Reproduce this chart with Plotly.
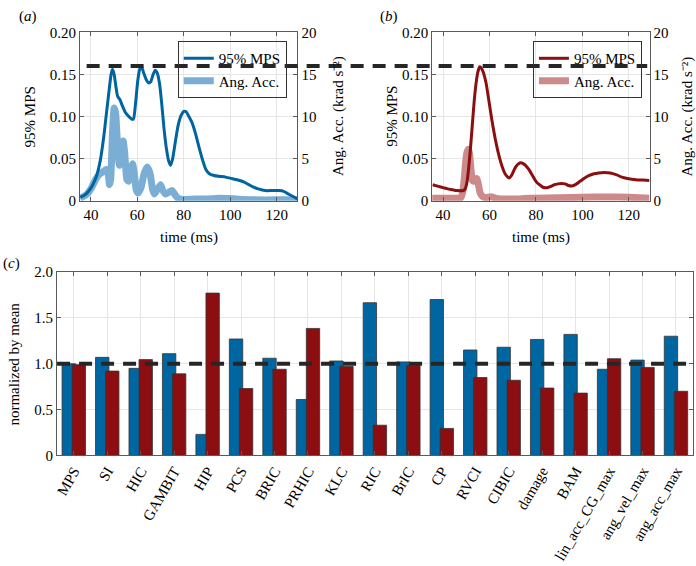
import plotly.graph_objects as go

# ---------------- data ----------------
# panel (a)
t_mps_a = [35.5, 37.5, 39.5, 41.0, 42.5, 44.0, 45.5, 46.7, 47.8, 48.7, 49.3, 50.0, 50.8, 51.5, 52.5,
           53.5, 54.8, 56.0, 57.5, 58.3, 59.2, 60.2, 61.0, 61.8, 62.7, 63.8, 64.8, 65.7, 66.8, 67.7,
           68.5, 69.5, 70.5, 71.5, 72.5, 73.5, 74.3, 75.2, 76.4, 77.6, 78.8, 80.0, 80.9, 82.0, 83.5,
           85.0, 86.5, 88.0, 89.5, 91.0, 93.0, 95.0, 98.0, 101.0, 104.0, 106.0, 108.0, 110.0, 112.0,
           115.0, 118.0, 121.0, 123.0, 125.0, 127.0, 128.9]
mps_a = [0.004, 0.007, 0.013, 0.020, 0.030, 0.047, 0.075, 0.104, 0.130, 0.150, 0.156, 0.150, 0.135, 0.124, 0.120,
         0.113, 0.105, 0.101, 0.097, 0.097, 0.115, 0.143, 0.156, 0.159, 0.152, 0.144, 0.140, 0.141, 0.150, 0.155,
         0.152, 0.140, 0.115, 0.085, 0.062, 0.047, 0.042, 0.050, 0.071, 0.090, 0.101, 0.106, 0.106, 0.101, 0.093,
         0.080, 0.064, 0.049, 0.037, 0.032, 0.030, 0.029, 0.028, 0.026, 0.024, 0.022, 0.019, 0.016, 0.014,
         0.012, 0.012, 0.012, 0.011, 0.008, 0.005, 0.002]

t_acc_a = [35.3, 38.0, 40.0, 42.0, 43.5, 45.0, 46.5, 47.3, 48.0, 48.5, 49.3, 50.0, 50.6, 51.3, 52.2, 53.0,
           53.9, 54.6, 55.5, 56.2, 57.0, 57.9, 58.8, 59.5, 60.3, 61.5, 63.0, 64.3, 65.5, 66.5, 67.3, 68.5,
           70.0, 71.0, 72.1, 73.5, 75.0, 76.5, 78.0, 80.0, 85.0, 90.0, 95.0, 100.0, 105.0, 110.0, 120.0, 128.9]
acc_a = [0.3, 0.7, 1.4, 2.5, 3.1, 3.4, 3.7, 3.5, 1.9, 2.5, 8.0, 11.0, 10.5, 7.5, 4.2, 5.5,
         7.1, 5.5, 2.5, 2.3, 3.6, 4.4, 3.0, 1.3, 0.9, 1.5, 3.3, 4.0, 3.2, 1.4, 0.8, 1.3,
         1.9, 1.2, 0.8, 1.0, 1.2, 0.6, 0.2, 0.15, 0.2, 0.2, 0.3, 0.25, 0.15, 0.1, 0.1, 0.1]

# panel (b)
t_mps_b = [35.5, 38.0, 40.0, 42.0, 44.0, 46.0, 47.5, 48.7, 49.5, 50.3, 51.0, 51.8, 52.6, 53.4, 54.2, 55.0,
           55.8, 56.6, 57.5, 58.5, 59.5, 60.5, 61.5, 62.5, 63.5, 64.5, 65.5, 66.5, 67.5, 68.4, 69.5, 70.5,
           71.5, 72.5, 73.5, 74.5, 75.5, 77.0, 78.5, 80.0, 81.5, 83.0, 84.8, 86.5, 88.0, 89.5, 91.0, 92.5,
           94.0, 95.5, 97.0, 99.0, 101.0, 103.0, 105.0, 107.0, 109.5, 112.0, 114.5, 117.0, 120.0, 123.0,
           126.0, 128.9]
mps_b = [0.019, 0.017, 0.0155, 0.014, 0.013, 0.012, 0.0118, 0.012, 0.014, 0.022, 0.038, 0.062, 0.090, 0.118, 0.139, 0.153,
         0.159, 0.157, 0.151, 0.140, 0.123, 0.105, 0.088, 0.073, 0.060, 0.049, 0.040, 0.033, 0.029, 0.027, 0.030, 0.036,
         0.041, 0.044, 0.045, 0.044, 0.042, 0.037, 0.030, 0.023, 0.019, 0.016, 0.0155, 0.017, 0.019, 0.020, 0.0205, 0.020,
         0.018, 0.0175, 0.019, 0.023, 0.027, 0.030, 0.032, 0.033, 0.0335, 0.033, 0.031, 0.028, 0.026, 0.025,
         0.0245, 0.024]

t_acc_b = [35.3, 40.0, 45.0, 47.5, 48.3, 49.0, 49.6, 50.2, 50.8, 51.4, 52.0, 52.6, 53.2, 53.9, 54.6, 55.3,
           56.0, 57.0, 58.5, 60.0, 61.0, 62.5, 65.0, 70.0, 75.0, 80.0, 90.0, 100.0, 110.0, 120.0, 128.9]
acc_b = [0.3, 0.3, 0.3, 0.3, 0.8, 2.2, 4.2, 5.6, 6.1, 5.6, 3.8, 2.4, 2.3, 2.6, 2.6, 1.8,
         0.9, 0.5, 0.35, 0.45, 0.45, 0.3, 0.2, 0.2, 0.25, 0.3, 0.35, 0.4, 0.45, 0.4, 0.3]

mps_threshold = 0.16

# panel (c)
metrics = ["MPS", "SI", "HIC", "GAMBIT", "HIP", "PCS", "BRIC", "PRHIC", "KLC", "RIC", "BrIC", "CP",
           "RVCI", "CIBIC", "damage", "BAM", "lin_acc_CG_max", "ang_vel_max", "ang_acc_max"]
norm_case_a = [1.00, 1.07, 0.95, 1.11, 0.23, 1.27, 1.06, 0.61, 1.03, 1.665, 1.02, 1.70,
               1.15, 1.18, 1.265, 1.32, 0.94, 1.04, 1.30]
norm_case_b = [0.99, 0.92, 1.045, 0.89, 1.77, 0.73, 0.94, 1.385, 0.97, 0.33, 0.98, 0.295,
               0.85, 0.82, 0.735, 0.68, 1.055, 0.96, 0.70]
norm_ref = 1.0

# ---------------- style ----------------
W, H = 696, 566
FONT = "Liberation Serif, Times New Roman, serif"
AX = "#5a5a5a"
GRID = "#e6e6e6"
BLUE, LBLUE = "#0064a0", "#7aaed4"
RED, LRED = "#8b0f0f", "#cc8a8a"
BAR_BLUE, BAR_RED = "#0066a2", "#8c0e10"


def px(x):
    return x / W


def py(y):
    return 1 - y / H


axis_common = dict(showline=True, linecolor=AX, linewidth=1, ticks="inside", ticklen=4,
                   tickcolor=AX, tickfont=dict(family=FONT, size=15, color="black"),
                   zeroline=False, gridcolor=GRID, gridwidth=1)

fig = go.Figure()

# panel (a)
fig.add_trace(go.Scatter(x=t_acc_a, y=acc_a, mode="lines", name="Ang. Acc.",
                         line=dict(color=LBLUE, width=7, shape="spline", smoothing=0.5),
                         xaxis="x", yaxis="y", legend="legend", legendrank=2))
fig.add_trace(go.Scatter(x=t_mps_a, y=mps_a, mode="lines", name="95% MPS",
                         line=dict(color=BLUE, width=3, shape="spline", smoothing=0.6),
                         xaxis="x", yaxis="y2", legend="legend", legendrank=1))
# panel (b)
fig.add_trace(go.Scatter(x=t_acc_b, y=acc_b, mode="lines", name="Ang. Acc.",
                         line=dict(color=LRED, width=7, shape="spline", smoothing=0.5),
                         xaxis="x2", yaxis="y3", legend="legend2", legendrank=2))
fig.add_trace(go.Scatter(x=t_mps_b, y=mps_b, mode="lines", name="95% MPS",
                         line=dict(color=RED, width=3, shape="spline", smoothing=0.6),
                         xaxis="x2", yaxis="y4", legend="legend2", legendrank=1))
# panel (c)
fig.add_trace(go.Bar(x=metrics, y=norm_case_a, xaxis="x3", yaxis="y5", width=0.4, offset=-0.35,
                     marker=dict(color=BAR_BLUE, line=dict(color="#333333", width=0.8)),
                     showlegend=False))
fig.add_trace(go.Bar(x=metrics, y=norm_case_b, xaxis="x3", yaxis="y5", width=0.4, offset=-0.05,
                     marker=dict(color=BAR_RED, line=dict(color="#333333", width=0.8)),
                     showlegend=False))

ydom_top = [py(198.3), py(25)]
time_ticks = [40, 60, 80, 100, 120]
mps_ticks = [0, 0.05, 0.10, 0.15, 0.20]
mps_tick_text = ["0", "0.05", "0.10", "0.15", "0.20"]
acc_ticks = [0, 5, 10, 15, 20]

fig.update_layout(
    width=W, height=H, autosize=False,
    margin=dict(l=0, r=0, t=0, b=0),
    paper_bgcolor="white", plot_bgcolor="white",
    font=dict(family=FONT, size=15, color="black"),
    barmode="overlay",
    xaxis=dict(axis_common, domain=[px(77.3), px(295.7)], anchor="y", range=[35.3, 128.9],
               tickvals=time_ticks, showgrid=True, mirror="ticks"),
    yaxis=dict(axis_common, domain=ydom_top, anchor="x", side="right", range=[0, 20],
               tickvals=acc_ticks, showgrid=True),
    yaxis2=dict(axis_common, overlaying="y", anchor="x", side="left", range=[0, 0.2],
                tickvals=mps_ticks, ticktext=mps_tick_text, showgrid=False),
    xaxis2=dict(axis_common, domain=[px(431), px(649.3)], anchor="y3", range=[35.3, 128.9],
                tickvals=time_ticks, showgrid=True, mirror="ticks"),
    yaxis3=dict(axis_common, domain=ydom_top, anchor="x2", side="right", range=[0, 20],
                tickvals=acc_ticks, showgrid=True),
    yaxis4=dict(axis_common, overlaying="y3", anchor="x2", side="left", range=[0, 0.2],
                tickvals=mps_ticks, ticktext=mps_tick_text, showgrid=False),
    xaxis3=dict(axis_common, domain=[px(54.3), px(692.7)], anchor="y5", type="category",
                range=[-0.5, len(metrics) - 0.5], tickangle=-60, showgrid=True, mirror="ticks"),
    yaxis5=dict(axis_common, domain=[py(460.5), py(271.7)], anchor="x3", range=[0, 2],
                tickvals=[0, 0.5, 1.0, 1.5, 2.0], ticktext=["0", "0.5", "1.0", "1.5", "2.0"],
                showgrid=True, mirror="ticks"),
    legend=dict(x=px(285), xanchor="right", y=py(34), yanchor="top", bgcolor="rgba(0,0,0,0)",
                bordercolor="#333333", borderwidth=1, font=dict(family=FONT, size=15),
                traceorder="normal", itemwidth=30, tracegroupgap=0),
    legend2=dict(x=px(641.7), xanchor="right", y=py(34), yanchor="top", bgcolor="rgba(0,0,0,0)",
                 bordercolor="#333333", borderwidth=1, font=dict(family=FONT, size=15),
                 traceorder="normal", itemwidth=30, tracegroupgap=0),
)

dash_line = dict(color="#262626", width=4, dash="13px,9px")
fig.add_shape(type="line", xref="paper", yref="y2", x0=px(84), x1=px(647),
              y0=mps_threshold, y1=mps_threshold, line=dash_line, layer="above")
fig.add_shape(type="line", xref="x3 domain", yref="y5", x0=0, x1=1,
              y0=norm_ref, y1=norm_ref, line=dash_line, layer="above")

acc_title = "Ang. Acc. (krad s\u207b\u00b2)"
ann = [
    dict(text="(<i>a</i>)", x=px(25), y=py(9)),
    dict(text="(<i>b</i>)", x=px(388), y=py(9)),
    dict(text="(<i>c</i>)", x=px(9), y=py(263)),
    dict(text="95% MPS", x=px(27), y=py(111.7), textangle=-90),
    dict(text=acc_title, x=px(337), y=py(111.7), textangle=-90),
    dict(text="95% MPS", x=px(390), y=py(111.7), textangle=-90),
    dict(text=acc_title, x=px(688), y=py(111.7), textangle=-90),
    dict(text="time (ms)", x=px(186.5), y=py(236)),
    dict(text="time (ms)", x=px(540), y=py(236)),
    dict(text="normalized by mean", x=px(11), y=py(366), textangle=-90),
]
for a in ann:
    fig.add_annotation(xref="paper", yref="paper", showarrow=False,
                       xanchor="center", yanchor="middle",
                       font=dict(family=FONT, size=15, color="black"), **a)

fig.write_html("out.html", config={"displayModeBar": False},
               post_script="document.body.style.margin='0';document.body.style.overflow='hidden';")
